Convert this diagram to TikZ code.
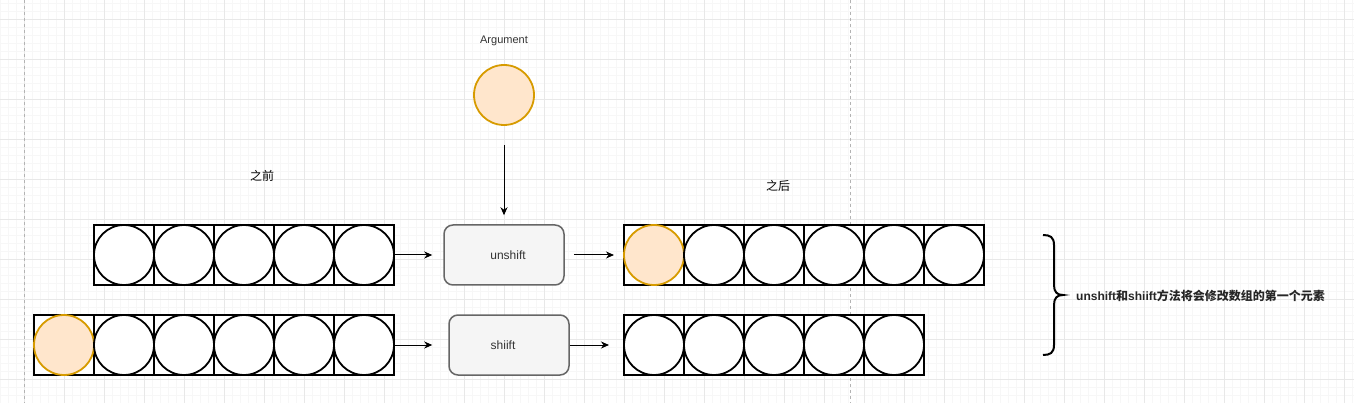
\documentclass[tikz,border=0pt]{standalone}
\usepackage{fontspec}
\setmainfont{Liberation Sans}
\newfontfamily\cjk{Noto Sans CJK SC}
\usetikzlibrary{arrows.meta}
\definecolor{orfill}{HTML}{FFE6CC}
\definecolor{orline}{HTML}{D79B00}
\definecolor{boxfill}{HTML}{F5F5F5}
\definecolor{boxline}{HTML}{666666}
\definecolor{txt}{HTML}{333333}
\definecolor{gmin}{HTML}{F7F7F7}
\definecolor{gmaj}{HTML}{E8E8E8}
\definecolor{pageline}{HTML}{B3B3B3}
\begin{document}
\begin{tikzpicture}[x=1pt,y=-1pt,
  minorgrid/.style={draw=gmin,line width=1pt},
  majorgrid/.style={draw=gmaj,line width=1pt},
  pagebreak/.style={draw=pageline,line width=1pt,dash pattern=on 3pt off 3pt},
  cellbox/.style={draw=black,fill=white,line width=2pt,minimum width=60pt,minimum height=60pt,inner sep=0pt},
  ball/.style={circle,draw=black,fill=white,line width=1.8pt,minimum size=60pt,inner sep=0pt},
  argball/.style={ball,draw=orline,fill=orfill},
  opbox/.style={draw=boxline,fill=boxfill,line width=1.5pt,rounded corners=9pt,minimum width=120pt,minimum height=60pt,inner sep=0pt,text=txt,font=\fontsize{12}{14}\selectfont},
  conn/.style={-{Stealth[length=8pt,width=7pt,inset=2.5pt]},line width=1pt,draw=black},
  caption/.style={inner sep=0pt,font=\cjk\fontsize{12}{14}\selectfont},
  bracestyle/.style={draw=black,line width=2pt}
]
\useasboundingbox (0,0) rectangle (1354,403);
\fill[white] (0,0) rectangle (1354,403);
% background grid
\foreach \k in {0,...,169} {\draw[minorgrid] ({\k*8},0) -- ({\k*8},403);}
\foreach \k in {0,...,50} {\draw[minorgrid] (0,{3.5+\k*8}) -- (1354,{3.5+\k*8});}
\foreach \k in {0,...,33} {\draw[majorgrid] ({24+\k*40},0) -- ({24+\k*40},403);}
\foreach \k in {0,...,9} {\draw[majorgrid] (0,{19.5+\k*40}) -- (1354,{19.5+\k*40});}
\draw[pagebreak] (24.5,0) -- (24.5,403);
\draw[pagebreak] (850.5,0) -- (850.5,403);

% labels
\node[inner sep=0pt,text=txt,font=\fontsize{11}{13}\selectfont] (arglabel) at (504,41) {Argument};
\node[caption] (before) at (262,176) {之前};
\node[caption] (after) at (778,186) {之后};

% argument ball
\node[argball] (arg) at (504,95) {};

% top-left array (5)
\foreach \i in {1,...,5} {\node[cellbox] (tlc\i) at ({124+60*(\i-1)},255) {};}
\foreach \i in {1,...,5} {\node[ball] (tl\i) at ({124+60*(\i-1)},255) {};}
% bottom-left array (6)
\foreach \i in {1,...,6} {\node[cellbox] (blc\i) at ({64+60*(\i-1)},345) {};}
\node[argball] (bl1) at (64,345) {};
\foreach \i in {2,...,6} {\node[ball] (bl\i) at ({64+60*(\i-1)},345) {};}
% top-right array (6)
\foreach \i in {1,...,6} {\node[cellbox] (trc\i) at ({654+60*(\i-1)},255) {};}
\node[argball] (tr1) at (654,255) {};
\foreach \i in {2,...,6} {\node[ball] (tr\i) at ({654+60*(\i-1)},255) {};}
% bottom-right array (5)
\foreach \i in {1,...,5} {\node[cellbox] (brc\i) at ({654+60*(\i-1)},345) {};}
\foreach \i in {1,...,5} {\node[ball] (br\i) at ({654+60*(\i-1)},345) {};}

% operation boxes
\node[opbox] (unshift) at (504,255) {\hspace*{8pt}unshift};
\node[opbox] (shiift) at (509,345) {shiift\hspace*{12pt}};

% connectors
\draw[conn,shorten <=19pt,shorten >=9pt] (arg.south) -- (unshift.north);
\draw[conn,shorten >=11pt] (tlc5.east) -- (unshift.west);
\draw[conn,shorten >=16pt] (blc6.east) -- (shiift.west);
\draw[conn,shorten <=9pt,shorten >=9pt] (unshift.east) -- (trc1.west);
\draw[conn,shorten >=14pt] (shiift.east) -- (brc1.west);

% brace
\coordinate (bracetip) at (1063,295);
\draw[bracestyle] (1043,235) .. controls (1050,235) and (1054,237) .. (1054,245)
  -- (1054,285) .. controls (1054,292) and (1057,295) .. (bracetip)
  .. controls (1057,295) and (1054,298) .. (1054,305)
  -- (1054,345) .. controls (1054,353) and (1050,355) .. (1043,355);

\node[anchor=west,inner sep=0pt,text=black!85,font=\bfseries\fontsize{12}{14}\selectfont] (note) at (1076,296)
  {unshift{\cjk 和}shiift{\cjk 方法将会修改数组的第一个元素}};
\end{tikzpicture}
\end{document}
